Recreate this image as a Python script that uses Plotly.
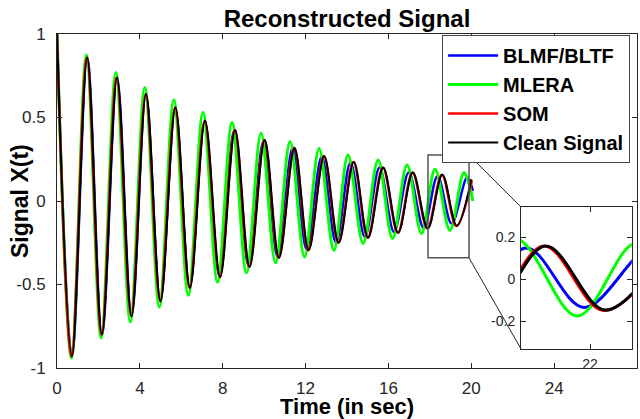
import plotly.graph_objects as go

# ---- data (extrema of each signal) ----
clean_t = [0.0, 0.72, 1.46, 2.17, 2.90, 3.60, 4.30, 5.00, 5.72, 6.42, 7.15, 7.88, 8.60, 9.30,
           10.03, 10.72, 11.47, 12.15, 12.90, 13.60, 14.33, 15.02, 15.75, 16.47, 17.18, 17.90,
           18.60, 19.30, 20.00]
clean_v = [1.0, -0.93, 0.86, -0.80, 0.74, -0.69, 0.64, -0.60, 0.56, -0.52, 0.48, -0.455, 0.425,
           -0.395, 0.365, -0.34, 0.317, -0.295, 0.27, -0.25, 0.233, -0.22, 0.20, -0.19, 0.17,
           -0.165, 0.157, -0.148, 0.13]

som_t = [0.0, 0.70, 1.44, 2.15, 2.88, 3.58, 4.28, 4.98, 5.70, 6.40, 7.13, 7.86, 8.58, 9.28,
         10.01, 10.70, 11.45, 12.13, 12.88, 13.58, 14.31, 15.00, 15.73, 16.45, 17.16, 17.88,
         18.58, 19.28, 20.03]
som_v = [1.0, -0.93, 0.86, -0.80, 0.74, -0.69, 0.64, -0.60, 0.56, -0.52, 0.48, -0.455, 0.425,
         -0.395, 0.365, -0.34, 0.317, -0.295, 0.27, -0.25, 0.233, -0.22, 0.20, -0.19, 0.17,
         -0.165, 0.157, -0.15, 0.125]

mlera_t = [0.0, 0.70, 1.42, 2.13, 2.84, 3.54, 4.24, 4.94, 5.64, 6.34, 7.05, 7.75, 8.45, 9.15,
           9.85, 10.55, 11.25, 11.95, 12.65, 13.37, 14.05, 14.78, 15.50, 16.20, 16.90, 17.60,
           18.25, 18.97, 19.65, 20.08]
mlera_v = [1.0, -0.94, 0.875, -0.82, 0.77, -0.725, 0.68, -0.635, 0.605, -0.565, 0.53, -0.485,
           0.47, -0.43, 0.405, -0.37, 0.355, -0.335, 0.315, -0.295, 0.275, -0.255, 0.245,
           -0.225, 0.215, -0.195, 0.19, -0.176, 0.17, 0.0]

blmf_t = [0.0, 0.72, 1.46, 2.17, 2.90, 3.60, 4.29, 4.99, 5.70, 6.40, 7.12, 7.84, 8.55, 9.25,
          9.97, 10.65, 11.38, 12.05, 12.78, 13.47, 14.17, 14.86, 15.57, 16.27, 16.98, 17.70,
          18.37, 19.05, 19.80, 20.08]
blmf_v = [1.0, -0.93, 0.86, -0.80, 0.74, -0.69, 0.64, -0.60, 0.555, -0.515, 0.475, -0.45, 0.42,
          -0.39, 0.36, -0.335, 0.32, -0.29, 0.265, -0.25, 0.23, -0.215, 0.20, -0.185, 0.17,
          -0.16, 0.148, -0.135, 0.14, 0.06]

x_ticks = [0, 4, 8, 12, 16, 20, 24, 28]
x_tick_labels = ["0", "4", "8", "12", "16", "20", "24", "28"]
y_ticks = [-1, -0.5, 0, 0.5, 1]
y_tick_labels = ["-1", "-0.5", "0", "0.5", "1"]
inset_y_ticks = [-0.2, 0, 0.2]
inset_y_tick_labels = ["-0.2", "0", "0.2"]
inset_x_ticks = [19.12]
inset_x_tick_labels = ["22"]

zoom_x = [17.91, 19.89]
zoom_y = [-0.34, 0.275]
inset_x_range = [18.31, 19.61]
inset_y_range = [-0.333, 0.343]

series = [
    ("BLMF/BLTF", blmf_t, blmf_v, "#0000FF", 2.5),
    ("MLERA", mlera_t, mlera_v, "#00FF00", 3),
    ("SOM", som_t, som_v, "#FF0000", 2.5),
    ("Clean Signal", clean_t, clean_v, "#000000", 2),
]

FONT = "Liberation Sans, Arial, Helvetica, sans-serif"
AX = "#262626"

fig = go.Figure()
for name, t, v, col, w in series:
    fig.add_trace(go.Scatter(x=t, y=v, mode="lines", name=name,
                             line=dict(color=col, width=w, shape="spline", smoothing=1),
                             xaxis="x", yaxis="y"))
for name, t, v, col, w in series:
    fig.add_trace(go.Scatter(x=t, y=v, mode="lines", name=name, showlegend=False,
                             line=dict(color=col, width=3, shape="spline", smoothing=1),
                             xaxis="x2", yaxis="y2"))

axis_common = dict(showline=True, linecolor=AX, linewidth=1, mirror="ticks",
                   ticks="inside", tickcolor=AX, ticklen=5, showgrid=False, zeroline=False,
                   automargin=False)

fig.update_layout(
    width=640, height=419,
    margin=dict(l=57, r=3, t=34, b=51, autoexpand=False),
    paper_bgcolor="white", plot_bgcolor="white",
    font=dict(family=FONT, color=AX),
    title=dict(text="Reconstructed Signal", x=0.5, xref="paper", xanchor="center",
               y=1 - 18.5 / 419, yref="container", yanchor="middle", automargin=False,
               font=dict(size=24, weight="bold", color="#000000", family=FONT)),
    xaxis=dict(domain=[0, 1], range=[0, 28], tickvals=x_ticks, ticktext=x_tick_labels,
               tickfont=dict(size=17, color=AX), ticklabelstandoff=5, **axis_common),
    yaxis=dict(domain=[0, 1], range=[-1, 1], tickvals=y_ticks, ticktext=y_tick_labels,
               tickfont=dict(size=17, color=AX), ticklabelstandoff=7, **axis_common),
    xaxis2=dict(domain=[0.8, 0.991], anchor="y2", range=inset_x_range,
                tickvals=inset_x_ticks, ticktext=inset_x_tick_labels,
                tickfont=dict(size=14, color=AX), ticklabelstandoff=2, **axis_common),
    yaxis2=dict(domain=[0.057, 0.482], anchor="x2", range=inset_y_range,
                tickvals=inset_y_ticks, ticktext=inset_y_tick_labels,
                tickfont=dict(size=14, color=AX), ticklabelstandoff=2, **axis_common),
    legend=dict(x=0.664, y=0.997, xanchor="left", yanchor="top", bgcolor="white",
                bordercolor="#444444", borderwidth=1, itemwidth=50,
                font=dict(size=20, weight="bold", color="#000000", family=FONT)),
    showlegend=True,
)

fig.add_annotation(text="Signal X(t)", xref="paper", yref="paper", x=0, y=0.5,
                   xanchor="center", yanchor="middle", xshift=-37, textangle=-90,
                   showarrow=False, font=dict(size=23, weight="bold", color="#000000"))
fig.add_annotation(text="Time (in sec)", xref="paper", yref="paper", x=0.5, y=0,
                   xanchor="center", yanchor="top", yshift=-24,
                   showarrow=False, font=dict(size=22, weight="bold", color="#000000"))

# zoom rectangle and connector lines
fig.add_shape(type="rect", xref="x", yref="y", x0=zoom_x[0], x1=zoom_x[1],
              y0=zoom_y[0], y1=zoom_y[1], line=dict(color="#555555", width=1.5))
inset_left_x = 22.4
fig.add_shape(type="line", xref="x", yref="y", x0=zoom_x[1], y0=zoom_y[1],
              x1=inset_left_x, y1=-0.036, line=dict(color="#262626", width=1))
fig.add_shape(type="line", xref="x", yref="y", x0=zoom_x[1], y0=zoom_y[0],
              x1=inset_left_x, y1=-0.886, line=dict(color="#262626", width=1))

fig.write_html("out.html", config={"displayModeBar": False},
               post_script="document.body.style.margin='0px';document.body.style.overflow='hidden';")
